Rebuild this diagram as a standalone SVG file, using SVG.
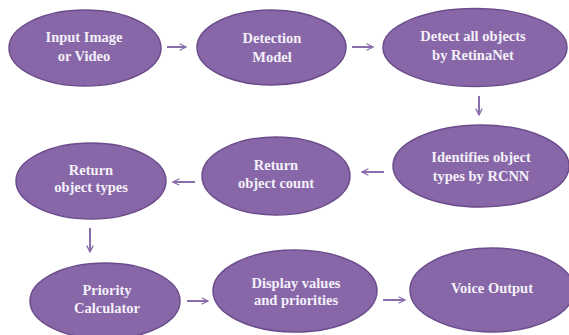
<svg xmlns="http://www.w3.org/2000/svg" width="569" height="335" viewBox="0 0 569 335">
  <defs>
    <style>
      .node ellipse { fill: #8767a8; stroke: #6c4d8c; stroke-width: 1.5; }
      .node text { font-family: "Liberation Serif", "Times New Roman", serif; font-weight: bold; font-size: 14.5px; fill: #f4f0f8; text-anchor: middle; }
      .conn line { stroke: #8a6dab; stroke-width: 2; fill: none; marker-end: url(#head); }
    </style>
    <marker id="head" viewBox="0 0 10 10" refX="9" refY="5" markerWidth="4" markerHeight="4" orient="auto" markerUnits="strokeWidth">
      <path d="M1,1 L9,5 L1,9" fill="none" stroke="#8a6dab" stroke-width="1.6"/>
    </marker>
  </defs>
  <rect width="569" height="335" fill="#ffffff"/>

  <g id="input">
    <g class="node">
      <ellipse cx="85" cy="48" rx="76" ry="38"/>
      <text x="84" y="42">Input Image</text>
      <text x="84" y="61">or Video</text>
    </g>
  </g>
  <g id="detection-model">
    <g class="node">
      <ellipse cx="271.5" cy="47.5" rx="74.5" ry="37.5"/>
      <text x="272" y="43">Detection</text>
      <text x="272" y="62">Model</text>
    </g>
  </g>
  <g id="retinanet">
    <g class="node">
      <ellipse cx="475" cy="47.5" rx="92" ry="39"/>
      <text x="473" y="41">Detect all objects</text>
      <text x="473" y="60">by RetinaNet</text>
    </g>
  </g>
  <g id="rcnn">
    <g class="node">
      <ellipse cx="481" cy="166" rx="88" ry="41"/>
      <text x="481" y="162">Identifies object</text>
      <text x="481" y="181">types by RCNN</text>
    </g>
  </g>
  <g id="object-count">
    <g class="node">
      <ellipse cx="276" cy="176" rx="74" ry="39"/>
      <text x="276" y="170">Return</text>
      <text x="276" y="188">object count</text>
    </g>
  </g>
  <g id="object-types">
    <g class="node">
      <ellipse cx="91" cy="181" rx="75" ry="38"/>
      <text x="91" y="175">Return</text>
      <text x="91" y="192">object types</text>
    </g>
  </g>
  <g id="priority">
    <g class="node">
      <ellipse cx="105" cy="301" rx="75" ry="38"/>
      <text x="107" y="295">Priority</text>
      <text x="107" y="313">Calculator</text>
    </g>
  </g>
  <g id="display">
    <g class="node">
      <ellipse cx="295" cy="291" rx="82" ry="41"/>
      <text x="296" y="288">Display values</text>
      <text x="296" y="305">and priorities</text>
    </g>
  </g>
  <g id="voice">
    <g class="node">
      <ellipse cx="492" cy="290" rx="82" ry="42"/>
      <text x="492" y="293">Voice Output</text>
    </g>
  </g>

  <g id="connectors" class="conn">
    <line x1="167" y1="47" x2="186" y2="47"/>
    <line x1="352" y1="47" x2="373" y2="47"/>
    <line x1="479" y1="96" x2="479" y2="115"/>
    <line x1="384" y1="172" x2="362" y2="172"/>
    <line x1="195" y1="182" x2="173" y2="182"/>
    <line x1="90" y1="228" x2="90" y2="252"/>
    <line x1="187" y1="301" x2="208" y2="301"/>
    <line x1="383" y1="300" x2="405" y2="300"/>
  </g>
</svg>
